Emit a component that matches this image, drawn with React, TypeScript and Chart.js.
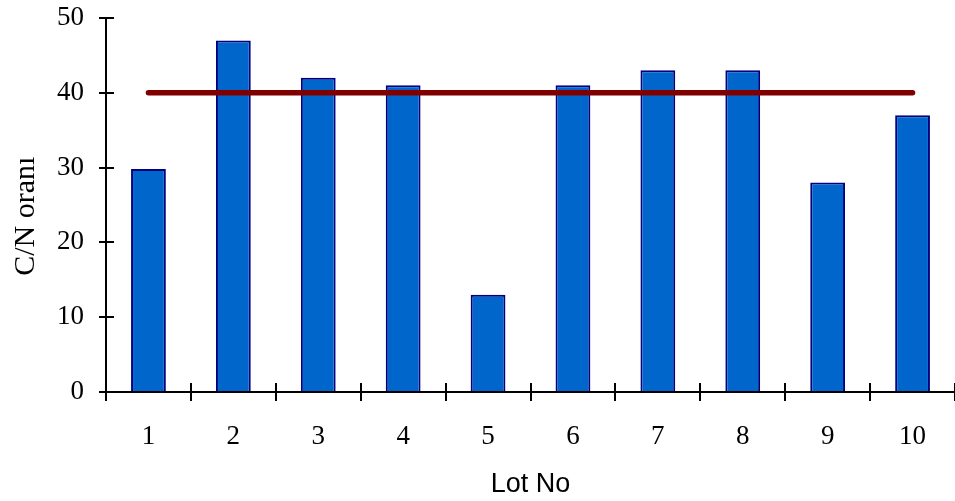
import React, { useEffect, useRef } from "react";
import { Chart, registerables } from "chart.js";

Chart.register(...registerables);

const lots = ["1", "2", "3", "4", "5", "6", "7", "8", "9", "10"];
const cnRatio = [29.8, 47, 42, 41, 13, 41, 43, 43, 28, 37];
const targetLine = [40, 40, 40, 40, 40, 40, 40, 40, 40, 40];
const yTicks = { min: 0, max: 50, step: 10 };

const innerTicks = {
  id: "innerTicks",
  afterDraw(chart: any) {
    const ctx = chart.ctx;
    const area = chart.chartArea;
    const x = chart.scales.x;
    const y = chart.scales.y;
    ctx.save();
    ctx.strokeStyle = "#000";
    ctx.lineWidth = 2;
    ctx.beginPath();
    y.ticks.forEach((_t: any, i: number) => {
      const py = Math.round(y.getPixelForTick(i));
      ctx.moveTo(area.left, py);
      ctx.lineTo(area.left + 8, py);
    });
    const n = x.ticks.length;
    const w = (x.right - x.left) / n;
    for (let i = 0; i <= n; i++) {
      const px = Math.round(x.getPixelForTick(0) - w / 2 + i * w);
      ctx.moveTo(px, area.bottom);
      ctx.lineTo(px, area.bottom - 9);
    }
    ctx.stroke();
    ctx.restore();
  },
};

export default function App() {
  const ref = useRef<HTMLCanvasElement>(null);
  useEffect(() => {
    if (!ref.current) return;
    const chart = new Chart(ref.current, {
      type: "bar",
      data: {
        labels: lots,
        datasets: [
          {
            type: "line",
            label: "Limit",
            data: targetLine,
            borderColor: "#800000",
            backgroundColor: "#800000",
            borderWidth: 5.5,
            pointRadius: 0,
            borderCapStyle: "round",
            order: 0,
          } as any,
          {
            type: "bar",
            label: "C/N oranı",
            data: cnRatio,
            backgroundColor: "#0066CC",
            borderColor: "#000080",
            borderWidth: 2,
            categoryPercentage: 1,
            barPercentage: 0.41,
            order: 1,
          } as any,
        ],
      },
      options: {
        animation: false,
        responsive: true,
        maintainAspectRatio: false,
        layout: { padding: { left: 0, right: 0, top: 18, bottom: 0 } },
        plugins: { legend: { display: false }, tooltip: { enabled: false } },
        scales: {
          x: {
            offset: true,
            grid: {
              offset: true,
              drawOnChartArea: false,
              drawTicks: true,
              tickLength: 9,
              color: "#000",
              lineWidth: 2,
            },
            border: { display: true, color: "#000", width: 2 },
            ticks: {
              color: "#000",
              padding: 20,
              font: { family: "'Liberation Serif', 'Times New Roman', serif", size: 27 },
            },
            title: {
              display: true,
              text: "Lot No",
              color: "#000",
              padding: { top: 0, bottom: 0 },
              font: { family: "'Liberation Sans', Arial, sans-serif", size: 27 },
            },
            afterFit(scale: any) {
              scale.height = 109;
              scale.paddingLeft = 0;
              scale.paddingRight = 0;
            },
          },
          y: {
            min: yTicks.min,
            max: yTicks.max,
            grid: {
              drawOnChartArea: false,
              drawTicks: true,
              tickLength: 7,
              color: "#000",
              lineWidth: 2,
            },
            border: { display: true, color: "#000", width: 2 },
            ticks: {
              stepSize: yTicks.step,
              color: "#000",
              padding: 15,
              font: { family: "'Liberation Serif', 'Times New Roman', serif", size: 27 },
            },
            title: {
              display: true,
              text: "C/N oranı\u00A0\u00A0\u00A0",
              color: "#000",
              padding: { top: 8, bottom: 0 },
              font: { family: "'Liberation Serif', 'Times New Roman', serif", size: 30 },
            },
            afterFit(scale: any) {
              scale.width = 106;
              scale.paddingTop = 0;
              scale.paddingBottom = 0;
            },
          },
        },
      },
      plugins: [innerTicks],
    });
    return () => chart.destroy();
  }, []);
  return (
    <div style={{ position: "absolute", left: 0, top: 0, width: 955, height: 501 }}>
      <canvas ref={ref} />
    </div>
  );
}
